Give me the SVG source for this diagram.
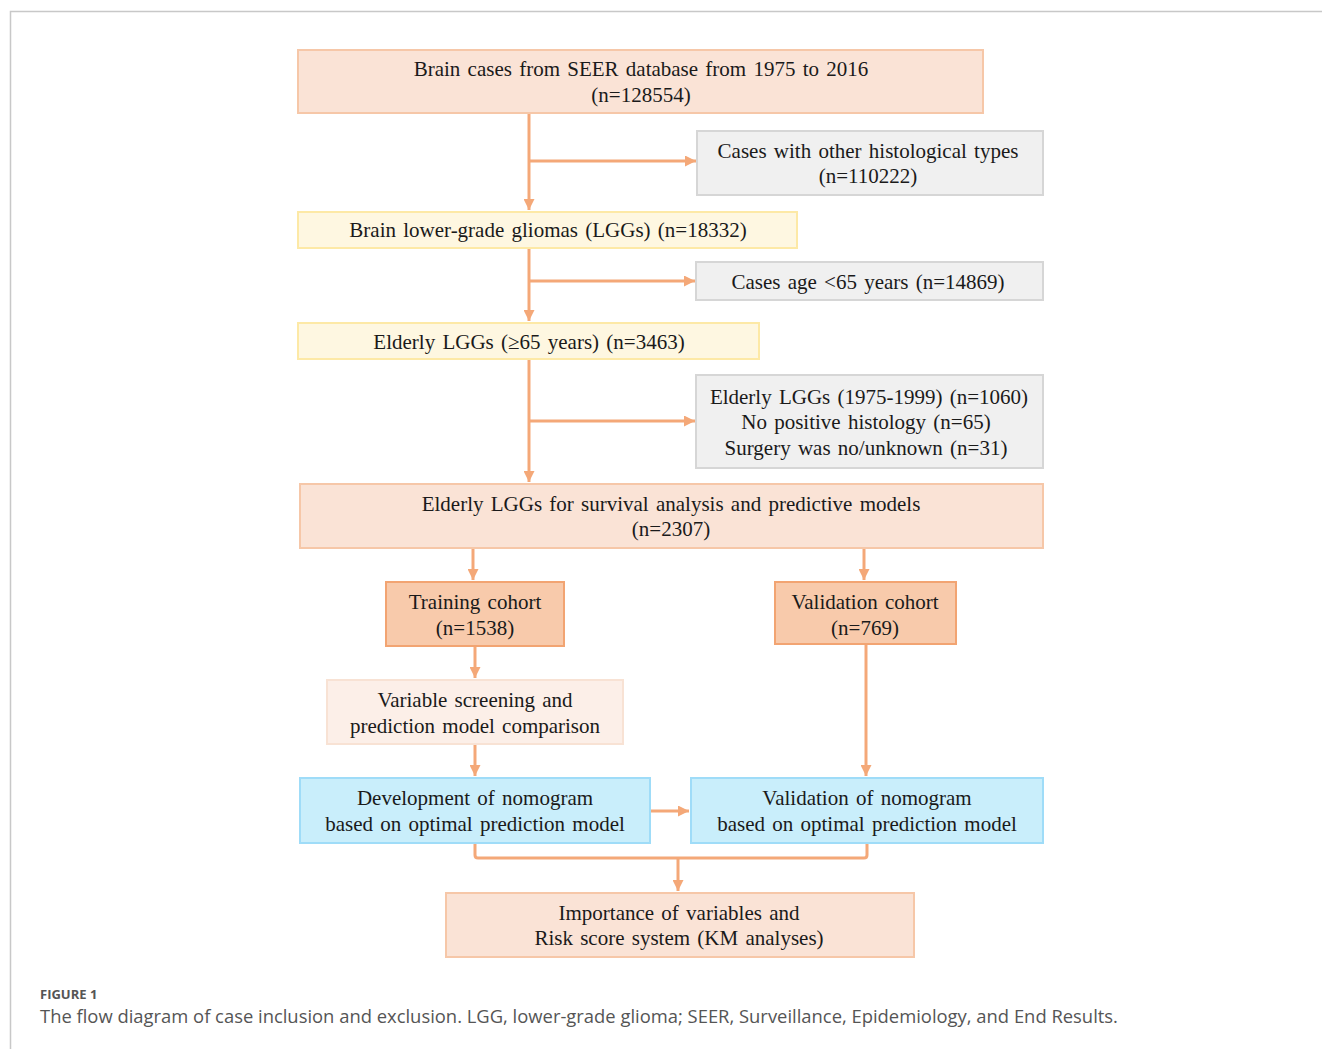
<svg xmlns="http://www.w3.org/2000/svg" width="1322" height="1049" viewBox="0 0 1322 1049">
<defs>
<marker id="ah" viewBox="0 0 10 10" refX="10" refY="5" markerWidth="11" markerHeight="11" markerUnits="userSpaceOnUse" orient="auto">
<path d="M0,0 L10,5 L0,10 z" fill="#f4a878"/>
</marker>
<style>
.t{font-family:"Liberation Serif","Times New Roman",serif;font-size:21px;word-spacing:2px;fill:#1a1a1a;text-anchor:middle}
.peach{fill:#fae3d6;stroke:#f6c7a8;stroke-width:2}
.gray{fill:#f0f0f0;stroke:#d6d6d6;stroke-width:2}
.yel{fill:#fef7e1;stroke:#fde9a6;stroke-width:2}
.org{fill:#f8caab;stroke:#f2a472;stroke-width:2}
.lt{fill:#fcefe8;stroke:#f8e2d4;stroke-width:2}
.blue{fill:#c9eefb;stroke:#9fdcf8;stroke-width:2}
.c{fill:none;stroke:#f4a878;stroke-width:3}
.cap{font-family:"Open Sans","Noto Sans",sans-serif;fill:#555}
</style>
</defs>
<rect width="1322" height="1049" fill="#fff"/>
<path d="M10.5,1049 V11.5 H1322" fill="none" stroke="#c8c8c8" stroke-width="1.5"/>

<g id="connectors">
<path class="c" d="M529,113 V210" marker-end="url(#ah)"/>
<path class="c" d="M529,161 H696" marker-end="url(#ah)"/>
<path class="c" d="M529,248 V321" marker-end="url(#ah)"/>
<path class="c" d="M529,281 H695" marker-end="url(#ah)"/>
<path class="c" d="M529,359 V482" marker-end="url(#ah)"/>
<path class="c" d="M529,421 H695" marker-end="url(#ah)"/>
<path class="c" d="M473,548 V580" marker-end="url(#ah)"/>
<path class="c" d="M864,548 V580" marker-end="url(#ah)"/>
<path class="c" d="M475,646 V678" marker-end="url(#ah)"/>
<path class="c" d="M475,744 V776" marker-end="url(#ah)"/>
<path class="c" d="M866,644 V776" marker-end="url(#ah)"/>
<path class="c" d="M651,811 H689" marker-end="url(#ah)"/>
<path class="c" d="M475,843 V855 Q475,858 478,858 H864 Q867,858 867,855 V843"/>
<path class="c" d="M678,858 V891" marker-end="url(#ah)"/>
</g>

<g id="n1"><rect class="peach" x="298" y="50" width="685" height="63"/>
<text class="t" x="641" y="76">Brain cases from SEER database from 1975 to 2016</text>
<text class="t" x="641" y="102">(n=128554)</text></g>

<g id="n2"><rect class="gray" x="697" y="131" width="346" height="64"/>
<text class="t" x="868" y="158">Cases with other histological types</text>
<text class="t" x="868" y="183">(n=110222)</text></g>

<g id="n3"><rect class="yel" x="298" y="212" width="499" height="36"/>
<text class="t" x="548" y="237">Brain lower-grade gliomas (LGGs) (n=18332)</text></g>

<g id="n4"><rect class="gray" x="696" y="262" width="347" height="38"/>
<text class="t" x="868" y="289">Cases age &lt;65 years (n=14869)</text></g>

<g id="n5"><rect class="yel" x="298" y="323" width="461" height="36"/>
<text class="t" x="529" y="349">Elderly LGGs (≥65 years) (n=3463)</text></g>

<g id="n6"><rect class="gray" x="696" y="375" width="347" height="93"/>
<text class="t" x="869" y="404">Elderly LGGs (1975-1999) (n=1060)</text>
<text class="t" x="866" y="429">No positive histology (n=65)</text>
<text class="t" x="866" y="455">Surgery was no/unknown (n=31)</text></g>

<g id="n7"><rect class="peach" x="300" y="484" width="743" height="64"/>
<text class="t" x="671" y="511">Elderly LGGs for survival analysis and predictive models</text>
<text class="t" x="671" y="536">(n=2307)</text></g>

<g id="n8"><rect class="org" x="386" y="582" width="178" height="64"/>
<text class="t" x="475" y="609">Training cohort</text>
<text class="t" x="475" y="635">(n=1538)</text></g>

<g id="n9"><rect class="org" x="775" y="582" width="181" height="62"/>
<text class="t" x="865" y="609">Validation cohort</text>
<text class="t" x="865" y="635">(n=769)</text></g>

<g id="n10"><rect class="lt" x="327" y="680" width="296" height="64"/>
<text class="t" x="475" y="707">Variable screening and</text>
<text class="t" x="475" y="733">prediction model comparison</text></g>

<g id="n11"><rect class="blue" x="300" y="778" width="350" height="65"/>
<text class="t" x="475" y="805">Development of nomogram</text>
<text class="t" x="475" y="831">based on optimal prediction model</text></g>

<g id="n12"><rect class="blue" x="691" y="778" width="352" height="65"/>
<text class="t" x="867" y="805">Validation of nomogram</text>
<text class="t" x="867" y="831">based on optimal prediction model</text></g>

<g id="n13"><rect class="peach" x="446" y="893" width="468" height="64"/>
<text class="t" x="679" y="920">Importance of variables and</text>
<text class="t" x="679" y="945">Risk score system (KM analyses)</text></g>

<text class="cap" x="40" y="999" font-size="13" font-weight="bold">FIGURE 1</text>
<text class="cap" x="40" y="1023" font-size="18.4">The flow diagram of case inclusion and exclusion. LGG, lower-grade glioma; SEER, Surveillance, Epidemiology, and End Results.</text>
</svg>
